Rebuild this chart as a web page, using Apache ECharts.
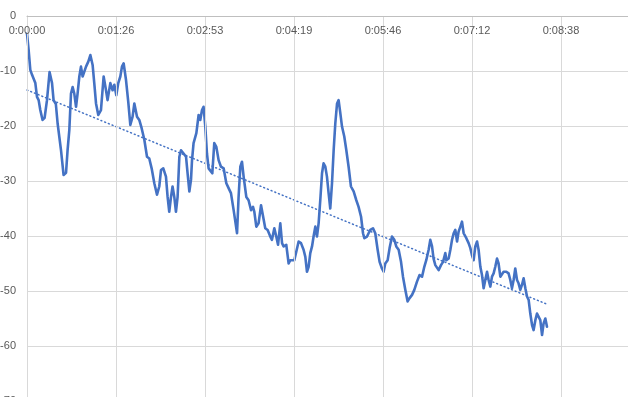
<!DOCTYPE html>
<html>
<head>
<meta charset="utf-8">
<script src="https://cdn.jsdelivr.net/npm/echarts@6/dist/echarts.min.js"></script>
<style>
html,body{margin:0;padding:0;background:#fff;}
#chart{width:628px;height:397px;}
</style>
</head>
<body>
<div id="chart"></div>
<script>
// elapsed time in seconds
var times = [0,1.6,3.2,4.9,6.4,8.1,9.7,11.3,12.9,15.1,17.1,19.4,21.9,24.3,25.8,28.0,29.7,33.0,35.5,37.9,
39.4,41.1,42.7,44.3,45.9,47.6,49.1,50.8,52.4,54.0,55.6,57.3,59.5,61.5,63.7,65.3,67.0,69.2,71.8,74.4,
76.7,78.2,80.9,83.1,84.8,86.7,88.6,90.6,92.2,93.8,96.1,98.3,100.3,102.5,104.2,106.8,109.0,111.3,113.9,116.5,
118.7,121.0,123.6,126.2,128.4,130.1,132.3,134.9,136.5,138.1,139.8,141.3,143.0,144.6,146.2,147.9,149.5,152.0,154.4,155.9,
157.6,159.2,160.2,161.7,164.4,166.6,168.2,169.9,171.4,173.1,174.7,176.3,177.9,179.9,181.8,183.8,186.0,188.3,190.9,193.5,
195.7,198.0,200.6,202.5,203.9,205.4,207.1,208.7,210.3,212.9,215.1,217.5,219.4,220.7,222.6,224.8,227.2,229.1,231.3,233.6,
236.2,237.8,240.1,242.0,243.7,245.9,247.6,249.1,251.7,254.0,255.6,257.3,259.5,261.4,263.7,266.0,268.5,270.2,271.8,273.4,
275.0,276.7,278.2,279.9,281.5,283.1,284.7,286.4,287.9,289.6,291.2,292.8,294.4,296.1,297.7,299.3,301.0,302.5,304.2,305.8,
308.0,310.0,312.2,314.5,317.1,319.7,321.9,324.3,326.2,327.5,330.1,331.6,333.3,335.9,338.1,340.4,342.3,344.6,346.2,347.8,
350.1,352.0,354.3,356.6,358.5,360.8,363.1,365.0,367.3,369.5,371.4,373.8,376.0,378.6,381.1,383.5,385.7,387.6,389.9,391.5,
393.2,394.7,396.4,398.0,399.6,401.9,403.9,406.1,407.1,409.3,411.0,412.6,414.2,415.8,417.5,419.0,420.7,422.3,423.9,426.5,
428.7,430.4,432.0,433.6,435.2,436.9,438.4,440.1,441.7,443.3,444.9,446.6,448.1,449.8,451.4,453.0,454.6,456.3,457.8,459.5,
461.1,462.7,465.3,467.5,469.2,470.8,472.4,474.0,475.7,477.2,478.9,480.5,482.1,483.8,485.4,487.0,488.6,490.3,491.8,493.5,
495.1,496.7,498.3,500.0,501.5,503.2,504.8];

var values = [-3.2,-6.2,-9.8,-10.7,-10.7,-12.2,-14.7,-15.3,-17.1,-18.9,-18.5,-15.3,-10.2,-12.2,-15.3,-16.0,-19.5,-24.4,-28.9,-28.5,
-24.4,-20.7,-14.1,-12.9,-14.1,-16.5,-14.1,-11.0,-9.2,-11.0,-10.7,-9.2,-8.3,-7.1,-8.9,-12.2,-15.9,-18.0,-17.1,-11.0,
-13.5,-15.3,-12.2,-13.5,-12.5,-14.4,-12.2,-11.0,-9.2,-8.6,-11.6,-15.6,-19.8,-18.3,-15.9,-18.3,-18.9,-20.4,-22.5,-25.6,
-25.9,-27.7,-30.4,-32.5,-31.0,-28.0,-27.7,-29.2,-32.9,-35.6,-32.9,-31.0,-32.9,-35.6,-32.9,-25.6,-24.4,-25.0,-25.6,-28.6,
-31.9,-29.8,-26.2,-23.1,-21.3,-18.0,-18.9,-17.1,-16.5,-20.1,-25.0,-27.7,-27.4,-28.6,-23.1,-23.8,-26.2,-27.4,-27.7,-30.4,
-31.3,-32.2,-35.3,-37.7,-39.5,-32.9,-27.4,-26.5,-29.2,-32.9,-33.5,-35.3,-34.7,-35.6,-38.3,-37.7,-34.4,-34.7,-38.6,-38.9,
-40.1,-40.7,-38.6,-40.1,-41.6,-37.7,-41.3,-41.9,-41.6,-45.0,-44.4,-44.4,-44.4,-44.1,-41.0,-41.3,-42.5,-43.8,-46.5,-45.6,
-43.1,-41.9,-40.1,-38.3,-40.1,-37.7,-33.5,-28.6,-26.8,-27.4,-29.2,-32.2,-35.0,-30.4,-24.4,-19.5,-15.9,-15.3,-17.7,-20.1,
-21.9,-24.4,-27.4,-31.0,-31.9,-33.5,-34.7,-36.5,-39.5,-40.4,-40.1,-39.5,-38.9,-38.6,-39.5,-42.5,-44.7,-45.9,-46.5,-45.0,
-44.4,-42.2,-40.1,-40.7,-41.9,-42.5,-44.7,-47.4,-49.8,-51.9,-51.3,-50.7,-49.8,-48.3,-47.1,-47.4,-45.6,-44.4,-42.5,-40.7,
-41.9,-44.1,-45.3,-45.6,-46.2,-45.3,-44.7,-43.1,-44.4,-44.1,-42.5,-40.7,-39.5,-38.9,-41.0,-39.2,-38.3,-37.4,-39.5,-40.4,
-41.3,-42.2,-43.5,-44.4,-41.9,-41.0,-42.5,-45.6,-47.1,-49.5,-48.0,-46.5,-48.0,-49.2,-47.4,-46.8,-45.6,-44.1,-45.0,-47.4,
-47.7,-46.5,-46.5,-46.8,-48.0,-49.5,-48.0,-45.9,-48.0,-48.6,-49.8,-48.9,-47.7,-49.5,-51.0,-51.6,-54.1,-56.2,-57.1,-55.3,
-54.1,-53.8,-55.3,-58.0,-55.9,-55.0,-56.5];

// linear trendline end points
var trendTimes = [0, 504.8];
var trendValues = [-13.45, -52.4];

var xTickLabels = ['0:00:00','0:01:26','0:02:53','0:04:19','0:05:46','0:07:12','0:08:38','0:10:05'];
var yTickLabels = ['0','-10','-20','-30','-40','-50','-60','-70'];

var lineData = times.map(function(t,i){return [t, values[i]];});
var trendData = trendTimes.map(function(t,i){return [t, trendValues[i]];});

var chart = echarts.init(document.getElementById('chart'), null, {renderer:'canvas'});
var labelFont = {color:'#595959', fontSize:11, fontFamily:'Liberation Sans, Arial, sans-serif'};
chart.setOption({
  animation:false,
  backgroundColor:'#ffffff',
  grid:{left:27, top:16, width:623, height:385, containLabel:false, outerBoundsMode:'none'},
  xAxis:{
    type:'value', position:'top', min:0, max:604.8, interval:86.4, z:5,
    axisLine:{show:true, lineStyle:{color:'#bfbfbf', width:1}},
    axisTick:{show:false},
    axisLabel:Object.assign({inside:true, margin:9, showMaxLabel:true,
      formatter:function(v){return xTickLabels[Math.round(v/86.4)];}}, labelFont),
    splitLine:{show:true, lineStyle:{color:'#d9d9d9', width:1}}
  },
  yAxis:{
    type:'value', min:-70, max:0, interval:10,
    axisLine:{show:true, lineStyle:{color:'#bfbfbf', width:1}},
    axisTick:{show:false},
    axisLabel:Object.assign({margin:11,
      formatter:function(v){return yTickLabels[Math.round(-v/10)];}}, labelFont),
    splitLine:{show:true, lineStyle:{color:'#d9d9d9', width:1}}
  },
  series:[
    {type:'line', data:lineData, showSymbol:false, symbol:'none',
     lineStyle:{color:'#4472C4', width:2.6, join:'round', cap:'round'}, z:3},
    {type:'line', data:trendData, showSymbol:false, symbol:'none',
     lineStyle:{color:'#4472C4', width:1.5, type:[1,3], cap:'round'}, z:2}
  ]
});
</script>
</body>
</html>
